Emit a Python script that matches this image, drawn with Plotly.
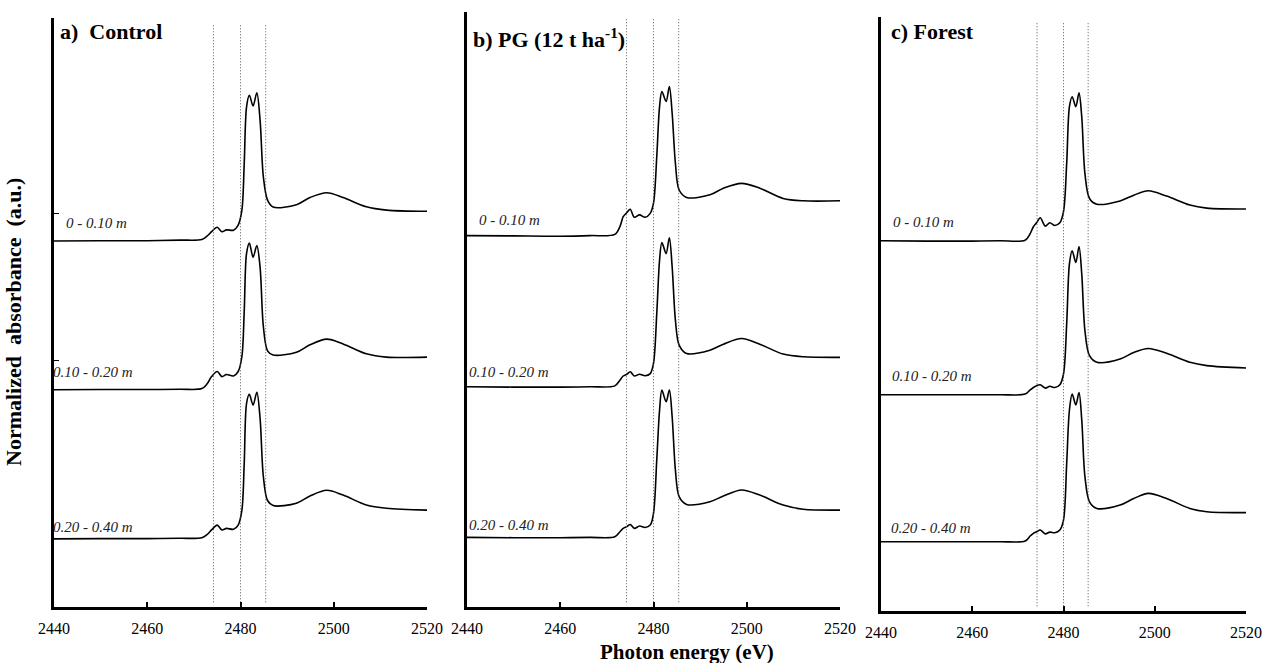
import plotly.graph_objects as go

# ---------------- data ----------------
energy_a = [2440, 2450, 2460, 2467.0, 2471.7, 2472.8, 2473.8, 2475.0, 2476.0, 2477.0, 2478.5, 2479.5,
            2480.3, 2480.8, 2481.3, 2481.9, 2482.7, 2483.5, 2484.2, 2484.9, 2485.8, 2487.0, 2492.0,
            2494.9, 2498.5, 2502.0, 2507.0, 2511.3, 2520]
control_0_10 = [-0.03, -0.02, -0.02, 0.00, 0.02, 0.13, 0.28, 0.43, 0.28, 0.34, 0.33, 0.50, 1.00, 2.56,
                4.44, 4.83, 4.47, 4.91, 4.00, 2.11, 1.33, 1.10, 1.18, 1.42, 1.58, 1.42, 1.11, 1.00, 0.96]
control_10_20 = [-0.02, -0.01, -0.01, 0.00, 0.02, 0.17, 0.42, 0.59, 0.42, 0.49, 0.44, 0.59, 1.09, 2.60,
                 4.53, 4.87, 4.40, 4.79, 4.07, 2.09, 1.28, 1.14, 1.23, 1.48, 1.67, 1.51, 1.18, 1.07, 1.07]
control_20_40 = [-0.02, -0.01, -0.01, 0.00, 0.02, 0.12, 0.28, 0.44, 0.28, 0.33, 0.30, 0.44, 0.94, 2.50,
                 4.50, 4.80, 4.44, 4.87, 4.00, 2.06, 1.26, 1.09, 1.17, 1.41, 1.60, 1.44, 1.11, 1.00, 0.94]

energy_b = [2440, 2450, 2460, 2466.4, 2471.7, 2472.8, 2473.5, 2474.3, 2475.0, 2475.9, 2477.0, 2478.2,
            2479.3, 2480.0, 2480.7, 2481.3, 2481.8, 2482.7, 2483.4, 2484.0, 2484.7, 2485.5, 2487.1,
            2492.1, 2495.0, 2498.9, 2502.8, 2507.8, 2512.1, 2520]
pg_0_10 = [0.00, -0.01, -0.02, 0.00, 0.04, 0.30, 0.63, 0.77, 0.88, 0.61, 0.69, 0.61, 0.74, 1.08, 2.63,
           4.30, 4.80, 4.47, 4.97, 4.08, 2.41, 1.52, 1.27, 1.36, 1.58, 1.74, 1.58, 1.24, 1.16, 1.16]
pg_10_20 = [0.00, -0.01, -0.01, 0.00, 0.03, 0.22, 0.36, 0.42, 0.50, 0.36, 0.42, 0.37, 0.44, 0.78, 2.44,
            4.22, 4.81, 4.44, 4.97, 4.00, 2.22, 1.39, 1.11, 1.22, 1.42, 1.61, 1.42, 1.09, 1.00, 0.98]
pg_20_40 = [0.00, -0.01, -0.01, 0.00, 0.02, 0.19, 0.30, 0.36, 0.43, 0.30, 0.38, 0.33, 0.41, 0.80, 2.58,
            4.24, 4.91, 4.52, 4.91, 4.02, 2.24, 1.36, 1.10, 1.19, 1.38, 1.58, 1.41, 1.08, 0.94, 0.91]

energy_c = [2440, 2450, 2460, 2466.1, 2471.6, 2472.7, 2473.4, 2474.1, 2474.9, 2476.0, 2477.0, 2478.1,
            2479.2, 2480.0, 2480.7, 2481.3, 2481.9, 2482.7, 2483.4, 2484.0, 2484.7, 2485.7, 2487.3,
            2492.4, 2495.4, 2498.6, 2502.6, 2507.7, 2511.4, 2520]
forest_0_10 = [0.00, -0.01, -0.01, 0.00, 0.02, 0.24, 0.47, 0.60, 0.77, 0.49, 0.60, 0.51, 0.60, 0.97, 2.58,
               4.47, 4.80, 4.47, 4.93, 4.13, 2.24, 1.41, 1.22, 1.33, 1.52, 1.67, 1.49, 1.19, 1.09, 1.06]
forest_10_20 = [0.00, 0.00, 0.00, 0.00, 0.02, 0.16, 0.24, 0.30, 0.33, 0.22, 0.28, 0.24, 0.33, 0.69, 2.36,
                4.36, 4.80, 4.41, 4.94, 4.02, 2.13, 1.30, 1.08, 1.19, 1.41, 1.54, 1.38, 1.08, 0.97, 0.89]
forest_20_40 = [0.00, 0.00, 0.00, 0.00, 0.02, 0.19, 0.28, 0.33, 0.39, 0.26, 0.32, 0.30, 0.39, 0.72, 2.61,
                4.39, 4.92, 4.56, 4.97, 4.06, 2.17, 1.33, 1.11, 1.22, 1.44, 1.61, 1.44, 1.11, 1.00, 0.97]

depth_labels = ["0 - 0.10 m", "0.10 - 0.20 m", "0.20 - 0.40 m"]
panel_titles = ["<b>a)  Control</b>", "<b>b) PG (12 t ha<sup>-1</sup>)</b>", "<b>c) Forest</b>"]
reference_lines = [2474.2, 2480.0, 2485.4]   # dotted guide lines (eV)
x_ticks = [2440, 2460, 2480, 2500, 2520]

# stacking offsets of spectra (a.u.)
offsets = [[12.23, 7.26, 2.29], [12.38, 7.34, 2.32], [12.34, 7.21, 2.31]]

panels = [
    (energy_a, [control_0_10, control_10_20, control_20_40]),
    (energy_b, [pg_0_10, pg_10_20, pg_20_40]),
    (energy_c, [forest_0_10, forest_10_20, forest_20_40]),
]

# ---------------- layout geometry (pixels) ----------------
W, H = 1262, 663
geo = [  # left, right, top, bottom
    (54, 427, 18, 607),
    (467, 840, 12, 607),
    (881, 1246, 17, 611),
]
PX_PER_UNIT = 30.0

fig = go.Figure()
FONT = "Liberation Serif"

for i, (energy, spectra) in enumerate(panels):
    sfx = "" if i == 0 else str(i + 1)
    for j, spec in enumerate(spectra):
        fig.add_trace(go.Scatter(
            x=energy, y=[v + offsets[i][j] for v in spec],
            mode="lines", line=dict(color="black", width=1.6, shape="spline", smoothing=0.9),
            xaxis="x" + sfx, yaxis="y" + sfx, showlegend=False, hoverinfo="skip"))

layout = dict(width=W, height=H, margin=dict(l=0, r=0, t=0, b=0),
              paper_bgcolor="white", plot_bgcolor="white", showlegend=False)
annotations = []
shapes = []
for i, (l, r, t, b) in enumerate(geo):
    sfx = "" if i == 0 else str(i + 1)
    yr = (b - t) / PX_PER_UNIT
    layout["xaxis" + sfx] = dict(
        domain=[l / W, r / W], range=[2440, 2520], anchor="y" + sfx,
        tickvals=x_ticks, ticks="inside", ticklen=5, tickwidth=1.5, tickcolor="black",
        showline=True, linewidth=2.5, linecolor="black", showgrid=False, zeroline=False,
        ticklabelstandoff=5,
        tickfont=dict(family=FONT, size=16, color="black"), automargin=False)
    ydict = dict(
        domain=[(H - b) / H, (H - t) / H], range=[0, yr], anchor="x" + sfx,
        showline=True, linewidth=2.5, linecolor="black", showgrid=False, zeroline=False,
        showticklabels=False, automargin=False)
    if i == 0:
        ydict.update(tickvals=[(b - 213) / PX_PER_UNIT, (b - 360) / PX_PER_UNIT],
                     ticks="inside", ticklen=5, tickwidth=1, tickcolor="black")
    else:
        ydict.update(ticks="")
    layout["yaxis" + sfx] = ydict
    for xv in reference_lines:
        shapes.append(dict(type="line", xref="x" + sfx, yref="y" + sfx + " domain",
                           x0=xv, x1=xv, y0=0.008, y1=0.99,
                           line=dict(color="#555", width=1, dash="1px,2px")))

title_pos = [(58, 31.5), (471, 38), (889, 31.5)]
for (x, y), txt in zip(title_pos, panel_titles):
    annotations.append(dict(text=txt, xref="paper", yref="paper", x=x / W, y=1 - y / H,
                            xanchor="left", yanchor="middle", showarrow=False,
                            font=dict(family=FONT, size=22, color="black")))

depth_pos = [
    [(64, 223), (51, 372), (51, 527)],
    [(477, 220), (467, 372), (467, 525)],
    [(891, 222), (890, 376), (889, 528)],
]
for pos in depth_pos:
    for (x, y), txt in zip(pos, depth_labels):
        annotations.append(dict(text="<i>" + txt + "</i>", xref="paper", yref="paper",
                                x=x / W, y=1 - y / H, xanchor="left", yanchor="middle",
                                showarrow=False, font=dict(family=FONT, size=15, color="#222")))

annotations.append(dict(text="<b>Photon energy (eV)</b>", xref="paper", yref="paper",
                        x=687 / W, y=1 - 652 / H, xanchor="center", yanchor="middle",
                        showarrow=False, font=dict(family=FONT, size=21, color="black")))
annotations.append(dict(text="<b>Normalized\u00a0 absorbance\u00a0 (a.u.)</b>", xref="paper", yref="paper",
                        x=13 / W, y=1 - 322 / H, xanchor="center", yanchor="middle", textangle=-90,
                        showarrow=False, font=dict(family=FONT, size=22, color="black")))

layout["annotations"] = annotations
layout["shapes"] = shapes
fig.update_layout(**layout)
fig.write_html("out.html", config={"displayModeBar": False},
               post_script="document.body.style.margin='0';document.body.style.overflow='hidden';")
